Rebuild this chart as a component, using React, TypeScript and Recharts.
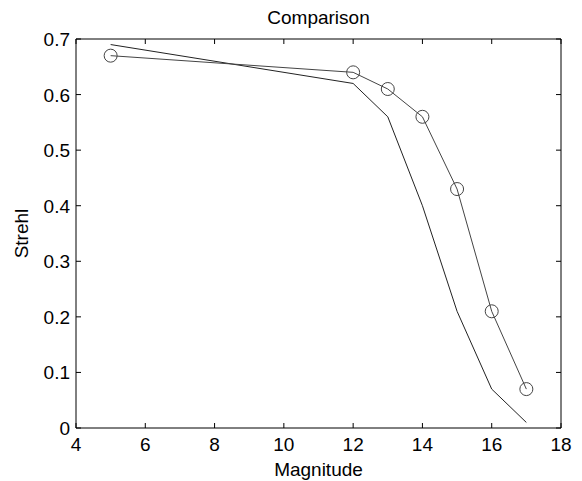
import { LineChart, Line, XAxis, YAxis, Label } from 'recharts';

// values
const magnitudes = [5, 12, 13, 14, 15, 16, 17];
const strehlLine = [0.69, 0.62, 0.56, 0.4, 0.21, 0.07, 0.01];
const strehlCircles = [0.67, 0.64, 0.61, 0.56, 0.43, 0.21, 0.07];
const xTicks = [4, 6, 8, 10, 12, 14, 16, 18];
const yTicks = [0, 0.1, 0.2, 0.3, 0.4, 0.5, 0.6, 0.7];

const data = magnitudes.map((m, i) => ({
  mag: m,
  plain: strehlLine[i],
  circles: strehlCircles[i],
}));

const FONT = '"Liberation Sans", Arial, sans-serif';
const FS = 19;
const TICK = 5;

const fmtY = (v: number) => (v === 0 ? '0' : v.toFixed(1));

function BottomTick(props: any) {
  const { x, y, payload } = props;
  return (
    <g>
      <line x1={x} y1={y} x2={x} y2={y - TICK} stroke="#000" />
      <text x={x} y={y + 23} textAnchor="middle" fontSize={FS} fontFamily={FONT} fill="#000">
        {payload.value}
      </text>
    </g>
  );
}

function TopTick(props: any) {
  const { x, y } = props;
  return <line x1={x} y1={y} x2={x} y2={y + TICK} stroke="#000" />;
}

function LeftTick(props: any) {
  const { x, y, payload } = props;
  return (
    <g>
      <line x1={x} y1={y} x2={x + TICK} y2={y} stroke="#000" />
      <text x={x - 6} y={y + 7} textAnchor="end" fontSize={FS} fontFamily={FONT} fill="#000">
        {fmtY(payload.value)}
      </text>
    </g>
  );
}

function RightTick(props: any) {
  const { x, y } = props;
  return <line x1={x} y1={y} x2={x - TICK} y2={y} stroke="#000" />;
}

export default function App() {
  return (
    <div style={{ position: 'absolute', left: 0, top: 0, background: '#fff' }}>
      <LineChart width={582} height={481} data={data} margin={{ top: 0, right: 0, bottom: 0, left: 0 }}>
        <XAxis
          xAxisId="bottom"
          dataKey="mag"
          type="number"
          domain={[4, 18]}
          ticks={xTicks}
          height={53}
          tickSize={0}
          tickMargin={0}
          tickLine={false}
          axisLine={{ stroke: '#000' }}
          tick={(p: any) => <BottomTick {...p} />}
        >
          <Label
            content={({ viewBox }: any) => (
              <text
                x={viewBox.x + viewBox.width / 2}
                y={viewBox.y + 48}
                textAnchor="middle"
                fontSize={FS}
                fontFamily={FONT}
                fill="#000"
              >
                Magnitude
              </text>
            )}
          />
        </XAxis>
        <XAxis
          xAxisId="top"
          orientation="top"
          dataKey="mag"
          type="number"
          domain={[4, 18]}
          ticks={xTicks}
          height={39}
          tickSize={0}
          tickMargin={0}
          tickLine={false}
          axisLine={{ stroke: '#000' }}
          tick={(p: any) => <TopTick {...p} />}
        >
          <Label
            content={({ viewBox }: any) => (
              <text
                x={viewBox.x + viewBox.width / 2}
                y={24}
                textAnchor="middle"
                fontSize={FS}
                fontFamily={FONT}
                fill="#000"
              >
                Comparison
              </text>
            )}
          />
        </XAxis>
        <YAxis
          yAxisId="left"
          type="number"
          domain={[0, 0.7]}
          ticks={yTicks}
          width={76}
          tickSize={0}
          tickMargin={0}
          tickLine={false}
          axisLine={{ stroke: '#000' }}
          tick={(p: any) => <LeftTick {...p} />}
        >
          <Label
            content={({ viewBox }: any) => {
              const cx = viewBox.x + 28;
              const cy = viewBox.y + viewBox.height / 2;
              return (
                <text
                  x={cx}
                  y={cy}
                  transform={`rotate(-90 ${cx} ${cy})`}
                  textAnchor="middle"
                  fontSize={FS}
                  fontFamily={FONT}
                  fill="#000"
                >
                  Strehl
                </text>
              );
            }}
          />
        </YAxis>
        <YAxis
          yAxisId="right"
          orientation="right"
          type="number"
          domain={[0, 0.7]}
          ticks={yTicks}
          width={21}
          tickSize={0}
          tickMargin={0}
          tickLine={false}
          axisLine={{ stroke: '#000' }}
          tick={(p: any) => <RightTick {...p} />}
        />
        <Line
          xAxisId="bottom"
          yAxisId="left"
          dataKey="plain"
          stroke="#222"
          strokeWidth={1}
          dot={false}
          isAnimationActive={false}
        />
        {/* same domains as bottom/left, so the top/right axes get their ticks from this series */}
        <Line
          xAxisId="top"
          yAxisId="right"
          dataKey="circles"
          stroke="#444"
          strokeWidth={1}
          dot={{ r: 6.5, fill: 'none', stroke: '#444', strokeWidth: 1 }}
          isAnimationActive={false}
        />
      </LineChart>
    </div>
  );
}
